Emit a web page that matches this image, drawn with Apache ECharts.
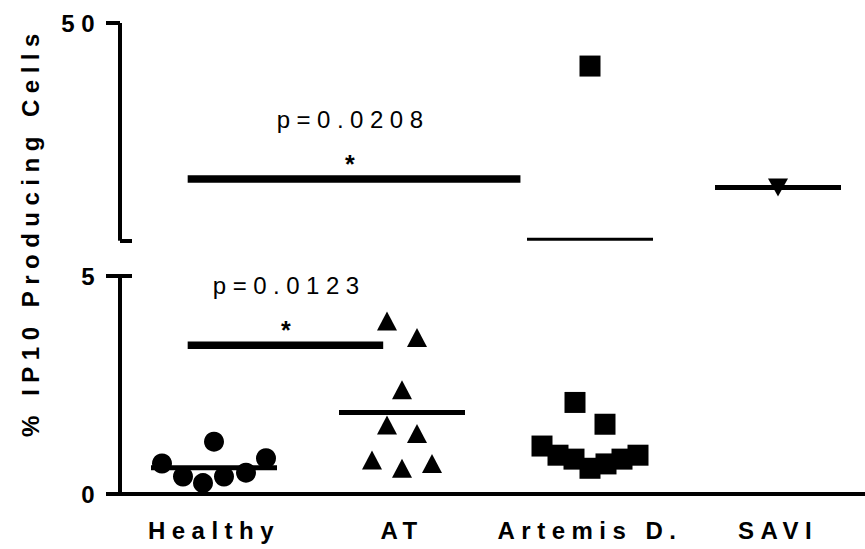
<!DOCTYPE html>
<html><head><meta charset="utf-8">
<script src="https://cdn.jsdelivr.net/npm/echarts@6/dist/echarts.min.js"></script>
<style>
html,body{margin:0;padding:0;background:#fff;}
#main{width:865px;height:549px;}
#main text{letter-spacing:6.5px;}
</style></head><body><div id="main"></div>
<script>
// ---------- data ----------
const categories = ['Healthy', 'AT', 'Artemis D.', 'SAVI'];
const healthy = [0.70, 0.40, 0.25, 1.20, 0.40, 0.49, 0.82];
const at = [3.97, 3.59, 2.39, 1.58, 1.39, 0.78, 0.59, 0.70];
const artemis = [41.1, 2.10, 1.60, 1.10, 0.89, 0.80, 0.59, 0.69, 0.80, 0.89];
const savi = [16.0];
const means = [0.60, 1.87, 5.3, 16.0];
const lowerTicks = [0, 5];
const upperTicks = [5, 50];
const sigFromX = [-0.14, -0.14];
const sigToX = [0.90, 1.63];
const sigY = [3.41, 17.75];
const sigLabelX = [0.40, 0.74];
const sigText = ['p=0.0123', 'p=0.0208'];
const sigStar = ['*', '*'];
const axisTitle = '% IP10 Producing Cells';
const BREAK = 5;

// ---------- styles ----------
const groups = [healthy, at, artemis, savi];
const jitter = [
  [-52, -31, -11, 0, 10, 32, 52],
  [-15, 15, 0, -15, 15, -30, 0, 30],
  [0, -15, 15, -48, -32, -16, 0, 16, 32, 48],
  [0]
];
const symbols = ['circle', 'triangle', 'rect', 'triangle'];
const symbolSizes = [[20, 20], [20, 19], [21, 21], [20, 18]];
const symbolRotates = [0, 0, 0, 180];
const meanThickness = [5, 5, 3, 5];
const FONT = 'Liberation Sans, Arial, Helvetica, sans-serif';

const chart = echarts.init(document.getElementById('main'), null, {renderer: 'svg'});

const series = [];
[0, 1].forEach(function (seg) {
  const inSeg = function (v) { return seg === 0 ? v > BREAK : v <= BREAK; };
  const xCat = seg === 0 ? 0 : 2;
  const xVal = seg === 0 ? 1 : 3;
  const yIdx = seg === 0 ? 0 : 2;
  const meanData = [];
  means.forEach(function (m, g) {
    if (inSeg(m)) meanData.push({value: [categories[g], m], symbolSize: [126, meanThickness[g]]});
  });
  series.push({
    type: 'scatter', xAxisIndex: xCat, yAxisIndex: yIdx, symbol: 'rect', clip: false,
    itemStyle: {color: '#000', opacity: 1}, data: meanData, silent: true, z: 2
  });
  groups.forEach(function (vals, g) {
    const d = [];
    vals.forEach(function (v, i) {
      if (inSeg(v)) d.push({value: [categories[g], v], symbolOffset: [jitter[g][i], 0]});
    });
    series.push({
      type: 'scatter', xAxisIndex: xCat, yAxisIndex: yIdx, clip: false,
      symbol: symbols[g], symbolSize: symbolSizes[g], symbolRotate: symbolRotates[g],
      itemStyle: {color: '#000', opacity: 1}, data: d, silent: true, z: 3
    });
  });
  const sd = [];
  sigY.forEach(function (y, k) {
    if (inSeg(y)) sd.push([sigFromX[k], sigToX[k], y, sigLabelX[k], k]);
  });
  series.push({
    type: 'custom', xAxisIndex: xVal, yAxisIndex: yIdx, clip: false, silent: true, z: 4,
    encode: {x: [0, 1, 3], y: 2},
    data: sd,
    renderItem: function (params, api) {
      const x0 = api.value(0), x1 = api.value(1), y = api.value(2), lx = api.value(3), k = api.value(4);
      const p0 = api.coord([x0, y]), p1 = api.coord([x1, y]), pl = api.coord([lx, y]);
      return {
        type: 'group', children: [
          {type: 'line', shape: {x1: p0[0], y1: p0[1], x2: p1[0], y2: p1[1]},
            style: {stroke: '#000', lineWidth: 7.5}},
          {type: 'text', x: pl[0], y: pl[1] - 15,
            style: {text: sigStar[k], fill: '#000', font: 'bold 25px ' + FONT, align: 'center', verticalAlign: 'middle'}},
          {type: 'text', x: pl[0], y: pl[1] - 60,
            style: {text: sigText[k], fill: '#000', font: '24px ' + FONT, align: 'center', verticalAlign: 'middle'}}
        ]
      };
    }
  });
});

const lineStyle = {color: '#000', width: 4, cap: 'butt'};
const tickLabelStyle = {color: '#000', fontSize: 24, fontWeight: 'bold', fontFamily: FONT, margin: 19,
  padding: [6, 0, 0, 0]};

const option = {
  backgroundColor: '#fff',
  animation: false,
  textStyle: {fontFamily: FONT},
  grid: [
    {left: 120, width: 752, top: 23, height: 217.7, containLabel: false, outerBoundsMode: 'none'},
    {left: 120, width: 752, top: 276, height: 218, containLabel: false, outerBoundsMode: 'none'}
  ],
  xAxis: [
    {type: 'category', gridIndex: 0, data: categories, show: false},
    {type: 'value', gridIndex: 0, min: -0.5, max: 3.5, show: false},
    {type: 'category', gridIndex: 1, data: categories,
      axisLine: {onZero: false, lineStyle: lineStyle},
      axisTick: {alignWithLabel: true, length: 12, lineStyle: lineStyle},
      axisLabel: {color: '#000', fontSize: 24, fontWeight: 'bold', fontFamily: FONT, margin: 24, interval: 0},
      splitLine: {show: false}},
    {type: 'value', gridIndex: 1, min: -0.5, max: 3.5, show: false}
  ],
  yAxis: [
    {type: 'value', gridIndex: 0, position: 'left', min: upperTicks[0], max: upperTicks[1],
      interval: upperTicks[1] - upperTicks[0],
      axisLine: {show: true, onZero: false, lineStyle: lineStyle},
      axisTick: {show: true, length: 14, lineStyle: lineStyle},
      axisLabel: Object.assign({showMinLabel: false}, tickLabelStyle),
      splitLine: {show: false}},
    {type: 'value', gridIndex: 0, position: 'left', min: upperTicks[0], max: upperTicks[1],
      axisLine: {show: false, onZero: false},
      axisTick: {show: true, inside: true, length: 12, lineStyle: lineStyle, customValues: [upperTicks[0]]},
      axisLabel: {show: false}, splitLine: {show: false}},
    {type: 'value', gridIndex: 1, position: 'left', min: lowerTicks[0], max: lowerTicks[1],
      interval: lowerTicks[1] - lowerTicks[0],
      axisLine: {show: true, onZero: false, lineStyle: lineStyle},
      axisTick: {show: true, length: 14, lineStyle: lineStyle},
      axisLabel: Object.assign({}, tickLabelStyle),
      splitLine: {show: false}},
    {type: 'value', gridIndex: 1, position: 'left', min: lowerTicks[0], max: lowerTicks[1],
      axisLine: {show: false, onZero: false},
      axisTick: {show: true, inside: true, length: 12, lineStyle: lineStyle, customValues: [lowerTicks[1]]},
      axisLabel: {show: false}, splitLine: {show: false}}
  ],
  graphic: [{
    type: 'text', x: 30, y: 232, rotation: Math.PI / 2,
    style: {text: axisTitle, fill: '#000', font: 'bold 24px ' + FONT, align: 'center', verticalAlign: 'middle'}
  }],
  series: series
};
chart.setOption(option);
</script></body></html>
